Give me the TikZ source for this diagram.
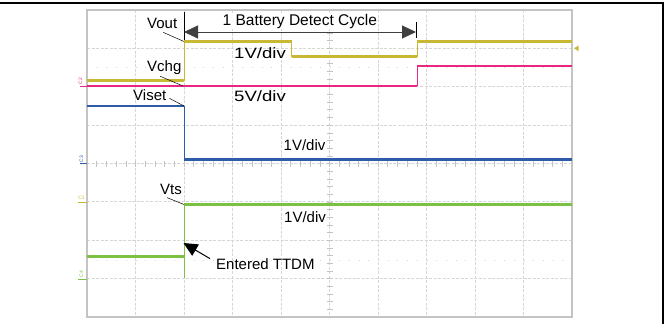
\documentclass[tikz,border=0pt]{standalone}
\usepackage{fontspec}
\setmainfont{Liberation Sans}
\newfontfamily\widesans[FakeStretch=1.24]{Liberation Sans}
\usetikzlibrary{arrows.meta, positioning, calc}
\definecolor{TraceYellow}{HTML}{C8B834}
\definecolor{TracePink}{HTML}{EA2780}
\definecolor{TraceBlue}{HTML}{2F5CA8}
\definecolor{TraceGreen}{HTML}{7CC144}
\definecolor{GridGray}{HTML}{D6D6D6}
\definecolor{FrameGray}{HTML}{C4C4C4}
\tikzset{
  scopeframe/.style={draw=FrameGray, line width=1.3pt},
  gridline/.style={draw=GridGray, line width=0.8pt, dash pattern=on 3pt off 1.5pt},
  dotrow/.style={draw=GridGray, line width=0.8pt, dash pattern=on 1pt off 8.7pt},
  tickmark/.style={draw=FrameGray, line width=0.6pt},
  trace/.style={line width=2.8pt},
  edgeline/.style={line width=0.8pt},
  siglabel/.style={font=\fontsize{15}{15}\selectfont, inner sep=0pt, anchor=base west},
  widelabel/.style={siglabel, font=\fontsize{15}{15}\widesans},
  chmark/.style={font=\fontsize{5}{5}\selectfont, inner sep=0pt},
  leader/.style={draw=black, line width=0.5pt},
  bigarrow/.style={-{Triangle[length=14pt, width=13pt]}, line width=1pt},
  cyclearrow/.style={{Triangle[length=14pt, width=13pt]}-{Triangle[length=14pt, width=13pt]}, line width=1pt, draw=black!75}
}

\begin{document}
\begin{tikzpicture}[x=1pt, y=-1pt]
  \useasboundingbox (0,0) rectangle (669,324);
  \draw[line width=2pt] (0,3) -- (663,3) -- (663,324);
  \foreach \i in {1,...,9} \draw[gridline] ({87+48.5*\i},10) -- ({87+48.5*\i},317);
  \foreach \j in {1,...,7} \draw[gridline] (87,{10+38.375*\j}) -- (572,{10+38.375*\j});
  \draw[dotrow] (87,67) -- (572,67);
  \draw[dotrow] (87,260) -- (572,260);
  \foreach \k in {1,...,49} \draw[tickmark] ({87+9.7*\k},160.5) -- ({87+9.7*\k},166.5);
  \foreach \k in {1,...,39} \draw[tickmark] (326.5,{10+7.675*\k}) -- (332.5,{10+7.675*\k});
  \draw[scopeframe] (87,10) rectangle (572,317);

  \coordinate (voutstep) at (184,41.5);
  \coordinate (vchgstep) at (183,86);
  \coordinate (visetstep) at (184,106);
  \coordinate (vtsstep) at (184,204.5);
  \coordinate (ttdmtip) at (183.5,243);
  \coordinate (cycstart) at (184,32);
  \coordinate (cycend) at (416,32);

  \draw[trace, TraceYellow] (87,80.5) -- (184,80.5) (184,41.5) -- (291.5,41.5) (291.5,56.5) -- (417,56.5) (417,41.5) -- (572,41.5);
  \draw[edgeline, TraceYellow] (184,80.5) -- (184,41.5) (291.5,41.5) -- (291.5,56.5) (417,56.5) -- (417,41.5);
  \draw[trace, TracePink] (87,86) -- (417,86) (417,66) -- (572,66);
  \draw[edgeline, TracePink] (417,86) -- (417,66);
  \draw[trace, TraceBlue] (87,106) -- (184,106) (184,159.5) -- (572,159.5);
  \draw[edgeline, TraceBlue] (184,106) -- (184,159.5);
  \draw[trace, TraceGreen] (87,256.5) -- (183.5,256.5) (184,204.5) -- (572,204.5);
  \draw[edgeline, TraceGreen] (184,278) -- (184,204.5);
  \fill[TraceYellow] (574,48.3) -- (578.5,45.5) -- (578.5,51.1) -- cycle;

  \node[chmark, text=TracePink, rotate=90] (c2) at (80.5,81) {C2};
  \draw[TracePink, line width=1pt] (80,86) -- (87,86);
  \node[chmark, text=TraceBlue, rotate=90] (c3) at (81.5,159) {C3};
  \draw[TraceBlue, line width=1pt] (80,163.6) -- (87,163.6);
  \node[chmark, text=TraceYellow] (c1) at (81.5,197.5) {C1};
  \draw[TraceYellow, line width=1pt] (78,202) -- (87,202);
  \node[chmark, text=TraceGreen, rotate=90] (c4) at (81.5,274) {C4};
  \draw[TraceGreen, line width=1pt] (78,279) -- (87,279);

  \node[siglabel, font=\fontsize{15.5}{15.5}\selectfont, fill=white, inner sep=1pt] (cycle) at (221.5,25) {1 Battery Detect Cycle};
  \draw[line width=1pt] (184,12) -- (184,40);
  \draw[line width=1pt] (416,22) -- (416,38);
  \draw[cyclearrow] (cycstart) -- (cycend);

  \node[siglabel] (vout) at (147,28) {Vout};
  \node[siglabel] (vchg) at (147,71.5) {Vchg};
  \node[siglabel] (viset) at (133,100) {Viset};
  \node[siglabel] (vts) at (160,194.3) {Vts};
  \node[widelabel] (divout) at (234,58.3) {1V/div};
  \node[widelabel] (divchg) at (234,101.7) {5V/div};
  \node[siglabel] (diviset) at (283.5,150.7) {1V/div};
  \node[siglabel] (divts) at (284,222.3) {1V/div};
  \node[siglabel] (ttdm) at (216,269) {Entered TTDM};

  \draw[leader] ($(vout.south)+(1,4)$) -- (voutstep);
  \draw[leader] ($(vchg.south)+(-4,1.5)$) -- (vchgstep);
  \draw[leader] ($(viset.south east)+(3,-2)$) -- (visetstep);
  \draw[leader] ($(vts.south)+(-4,3)$) -- (vtsstep);
  \draw[bigarrow] ($(ttdm.west)+(-6,-5)$) -- (ttdmtip);
\end{tikzpicture}
\end{document}
